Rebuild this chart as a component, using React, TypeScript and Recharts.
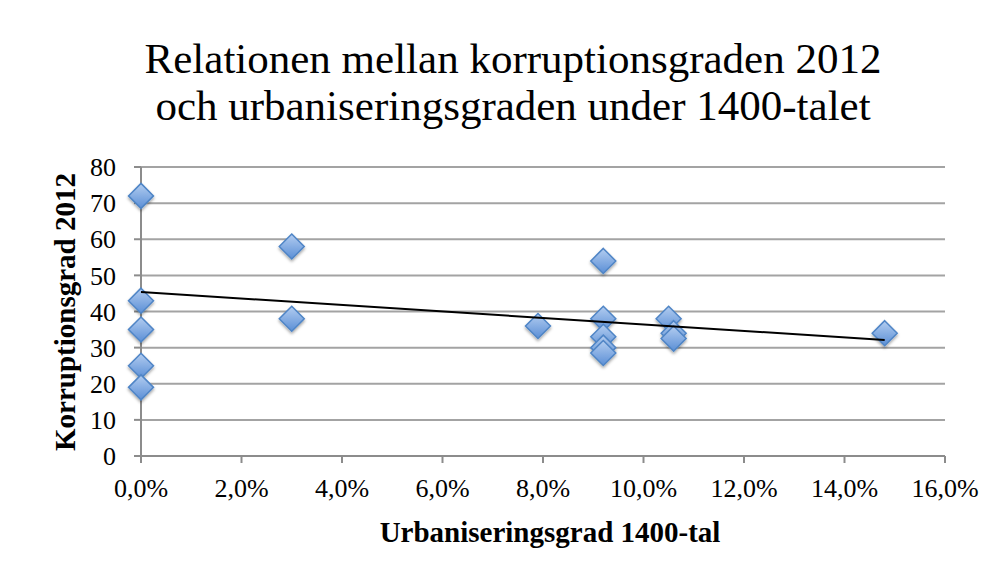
import React from 'react';
import { ScatterChart, Scatter, XAxis, YAxis, CartesianGrid } from 'recharts';

/* ─── Data ─────────────────────────────────────────────────────────────────── */
const urbanisering = [0, 0, 0, 0, 0, 3, 3, 7.9, 9.2, 9.2, 9.2, 9.2, 9.2, 10.5, 10.6, 10.6, 14.8];
const korruption = [72, 43, 35, 25, 19, 58, 38, 36, 54, 38, 33, 30, 28.5, 38, 34, 32.5, 34];
const trendX = [0, 14.8];
const trendY = [45.4, 32.1];
const xTicks = [0, 2, 4, 6, 8, 10, 12, 14, 16];
const yTicks = [0, 10, 20, 30, 40, 50, 60, 70, 80];

const points = urbanisering.map((x, i) => ({ x, y: korruption[i] }));
const trend = trendX.map((x, i) => ({ x, y: trendY[i] }));

const SERIF = '"Liberation Serif", "DejaVu Serif", serif';
const GRID = '#a3a3a3';
const AXIS = '#8c8c8c';

const Diamond = (props: any) => {
    const { cx, cy } = props;
    if (cx == null || cy == null) return <g />;
    const r = 12.5;
    const pts = `${cx},${cy - r} ${cx + r},${cy} ${cx},${cy + r} ${cx - r},${cy}`;
    return (
        <g filter="url(#diamondShadow)">
            <polygon points={pts} fill="url(#diamondFill)" stroke="#4f85c6" strokeWidth={1.5} />
        </g>
    );
};

export default function App() {
    return (
        <div style={{ position: 'relative', width: 996, height: 571, fontFamily: SERIF }}>
            {/* chart frame */}
            <div
                style={{
                    position: 'absolute',
                    left: -1,
                    top: -1,
                    width: 997,
                    height: 572,
                    borderTop: '1px solid #8a8a8a',
                    borderLeft: '1px solid #8a8a8a',
                    boxSizing: 'border-box',
                }}
            />
            {/* title */}
            <div
                style={{
                    position: 'absolute',
                    left: 0,
                    top: 27,
                    width: 1010,
                    textAlign: 'center',
                    fontSize: 43,
                    lineHeight: '47px',
                    color: '#000',
                }}
            >
                Relationen mellan korruptionsgraden 2012
                <br />
                och urbaniseringsgraden under 1400-talet
            </div>
            <ScatterChart
                width={996}
                height={571}
                margin={{ top: 159, right: 59, bottom: 93, left: 73 }}
                style={{ position: 'absolute', left: 0, top: 0 }}
            >
                <defs>
                    <linearGradient id="diamondFill" x1="0" y1="0" x2="0" y2="1">
                        <stop offset="0%" stopColor="#b3cdf0" />
                        <stop offset="100%" stopColor="#5b8fd6" />
                    </linearGradient>
                    <filter id="diamondShadow" x="-50%" y="-50%" width="200%" height="200%">
                        <feDropShadow dx="0" dy="2" stdDeviation="1.5" floodColor="#000" floodOpacity="0.35" />
                    </filter>
                </defs>
                <CartesianGrid horizontal vertical={false} stroke={GRID} strokeWidth={2} />
                <XAxis
                    type="number"
                    dataKey="x"
                    domain={[0, 16]}
                    ticks={xTicks}
                    interval={0}
                    height={30}
                    stroke={AXIS}
                    strokeWidth={2}
                    tickSize={7}
                    tickMargin={16}
                    tick={{ fill: '#000', fontSize: 26, fontFamily: SERIF }}
                    tickFormatter={(v: number) => `${v.toFixed(1).replace('.', ',')}%`}
                />
                <YAxis
                    type="number"
                    dataKey="y"
                    domain={[0, 80]}
                    ticks={yTicks}
                    interval={0}
                    width={60}
                    stroke={AXIS}
                    strokeWidth={2}
                    tickSize={7}
                    tickMargin={18}
                    tick={{ fill: '#000', fontSize: 26, fontFamily: SERIF }}
                />
                <Scatter data={points} shape={Diamond} isAnimationActive={false} />
                <Scatter
                    data={trend}
                    line={{ stroke: '#000', strokeWidth: 2 }}
                    shape={() => <g />}
                    isAnimationActive={false}
                />
            </ScatterChart>
            {/* y-axis title */}
            <div
                style={{
                    position: 'absolute',
                    left: 57,
                    top: 304,
                    transform: 'translate(-50%, -50%) rotate(-90deg)',
                    whiteSpace: 'nowrap',
                    fontSize: 29,
                    lineHeight: 1,
                    fontWeight: 'bold',
                }}
            >
                Korruptionsgrad 2012
            </div>
            {/* x-axis title */}
            <div
                style={{
                    position: 'absolute',
                    left: 542,
                    top: 510,
                    transform: 'translateX(-50%)',
                    whiteSpace: 'nowrap',
                    fontSize: 29,
                    lineHeight: 1,
                    fontWeight: 'bold',
                }}
            >
                Urbaniseringsgrad 1400-tal
            </div>
        </div>
    );
}
